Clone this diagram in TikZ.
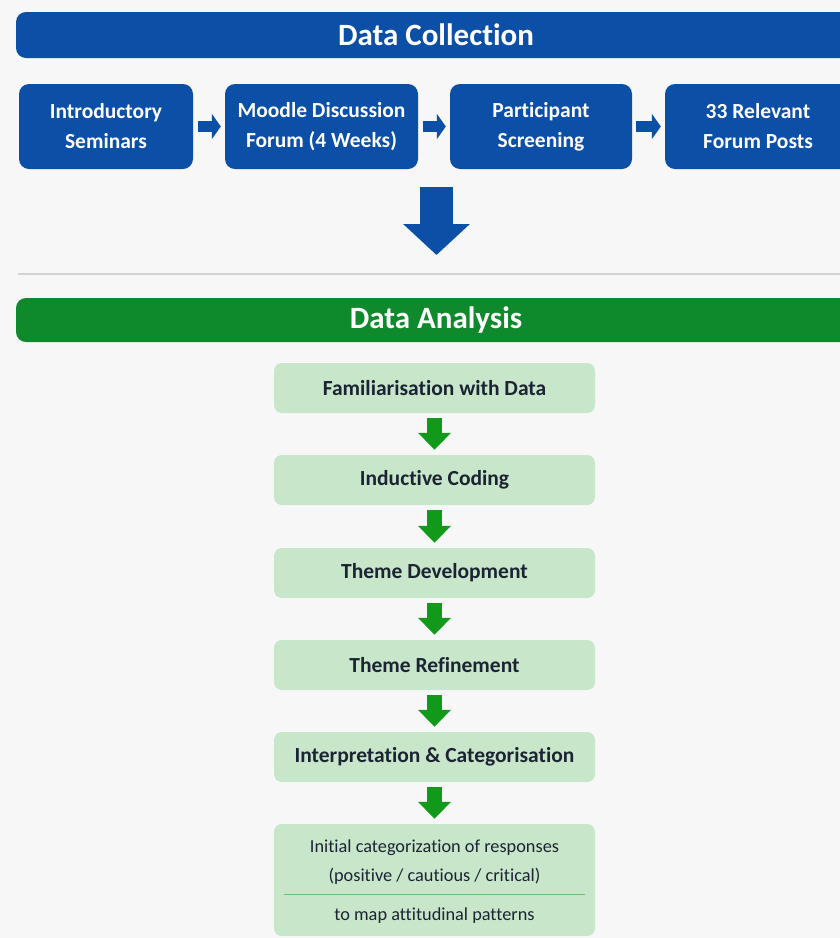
\documentclass[tikz,border=0pt]{standalone}
\usepackage{fontspec}
\setmainfont{Carlito}[Ligatures=NoCommon]
\usepackage{tikz}
\usetikzlibrary{arrows.meta,positioning}

\definecolor{pagebg}{HTML}{F7F7F7}
\definecolor{dcblue}{HTML}{0B4FA6}
\definecolor{dagreen}{HTML}{0E8A2C}
\definecolor{stepfill}{HTML}{C8E6CA}
\definecolor{steptext}{HTML}{1B2433}
\definecolor{arrowgreen}{HTML}{119A1A}
\definecolor{sepgray}{HTML}{D3D3D3}
\definecolor{divgreen}{HTML}{6BBF73}

\begin{document}
\begin{tikzpicture}[x=1pt, y=-1pt,
  headbar/.style={rectangle, rounded corners=10pt, fill=#1, text=white, minimum width=840pt, minimum height=46pt, inner sep=0pt, font=\fontsize{31}{34}\selectfont\bfseries},
  collbox/.style={rectangle, rounded corners=10pt, fill=dcblue, text=white, minimum height=85pt, inner sep=0pt, align=center, font=\fontsize{21.5}{30}\selectfont\bfseries},
  stepbox/.style={rectangle, rounded corners=8pt, fill=stepfill, text=steptext, minimum width=321pt, minimum height=50pt, inner sep=0pt, font=\fontsize{21.5}{24}\selectfont\bfseries},
  restext/.style={text=steptext, inner sep=0pt, font=\fontsize{18.3}{21}\selectfont},
  bluearrow/.style={dcblue, line width=11pt, -{Triangle[length=9pt, width=25pt]}},
  bigarrow/.style={dcblue, line width=33pt, -{Triangle[length=31pt, width=65pt]}},
  greenarrow/.style={arrowgreen, line width=15pt, -{Triangle[length=17pt, width=32pt]}}]

\useasboundingbox (0,0) rectangle (840,938);
\fill[pagebg] (0,0) rectangle (840,938);
\clip (0,0) rectangle (840,938);

% Data Collection
\node[headbar=dcblue] (dc) at (436,35) {Data Collection};

\node[collbox, minimum width=174pt] (intro) at (106,126.5) {Introductory\\Seminars};
\node[collbox, minimum width=193pt] (forum) at (321.5,126.5) {Moodle Discussion\\Forum (4 Weeks)};
\node[collbox, minimum width=182pt] (screen) at (541,126.5) {Participant\\Screening};
\node[collbox, minimum width=186pt] (posts) at (758,126.5) {33 Relevant\\Forum Posts};

\draw[bluearrow, shorten <=5pt, shorten >=4pt] (intro) -- (forum);
\draw[bluearrow, shorten <=5pt, shorten >=4pt] (forum) -- (screen);
\draw[bluearrow, shorten <=4pt, shorten >=4pt] (screen) -- (posts);

\coordinate (down1) at (436.5,187);
\coordinate (down2) at (436.5,255);
\draw[bigarrow] (down1) -- (down2);

% separator
\coordinate (sep1) at (18,274);
\coordinate (sep2) at (850,274);
\draw[sepgray, line width=2pt] (sep1) -- (sep2);

% Data Analysis
\node[headbar=dagreen, minimum height=44pt] (da) at (436,320) {Data Analysis};

\node[stepbox] (fam) at (434.5,388) {Familiarisation with Data};
\node[stepbox] (code) at (434.5,480) {Inductive Coding};
\node[stepbox] (dev) at (434.5,573) {Theme Development};
\node[stepbox] (refine) at (434.5,665) {Theme Refinement};
\node[stepbox] (interp) at (434.5,757) {Interpretation \& Categorisation};
\node[stepbox, minimum height=112pt] (res) at (434.5,880) {};

\node[restext] (res1) at (434.5,848) {Initial categorization of responses};
\node[restext] (res2) at (434.5,876) {(positive / cautious / critical)};
\node[restext] (res3) at (434.5,916) {to map attitudinal patterns};
\coordinate (div1) at (284,894);
\coordinate (div2) at (585,894);
\draw[divgreen, line width=1pt] (div1) -- (div2);

\draw[greenarrow, shorten <=5pt, shorten >=5pt] (fam) -- (code);
\draw[greenarrow, shorten <=5pt, shorten >=5pt] (code) -- (dev);
\draw[greenarrow, shorten <=5pt, shorten >=5pt] (dev) -- (refine);
\draw[greenarrow, shorten <=5pt, shorten >=5pt] (refine) -- (interp);
\draw[greenarrow, shorten <=5pt, shorten >=5pt] (interp) -- (res);

\end{tikzpicture}
\end{document}
